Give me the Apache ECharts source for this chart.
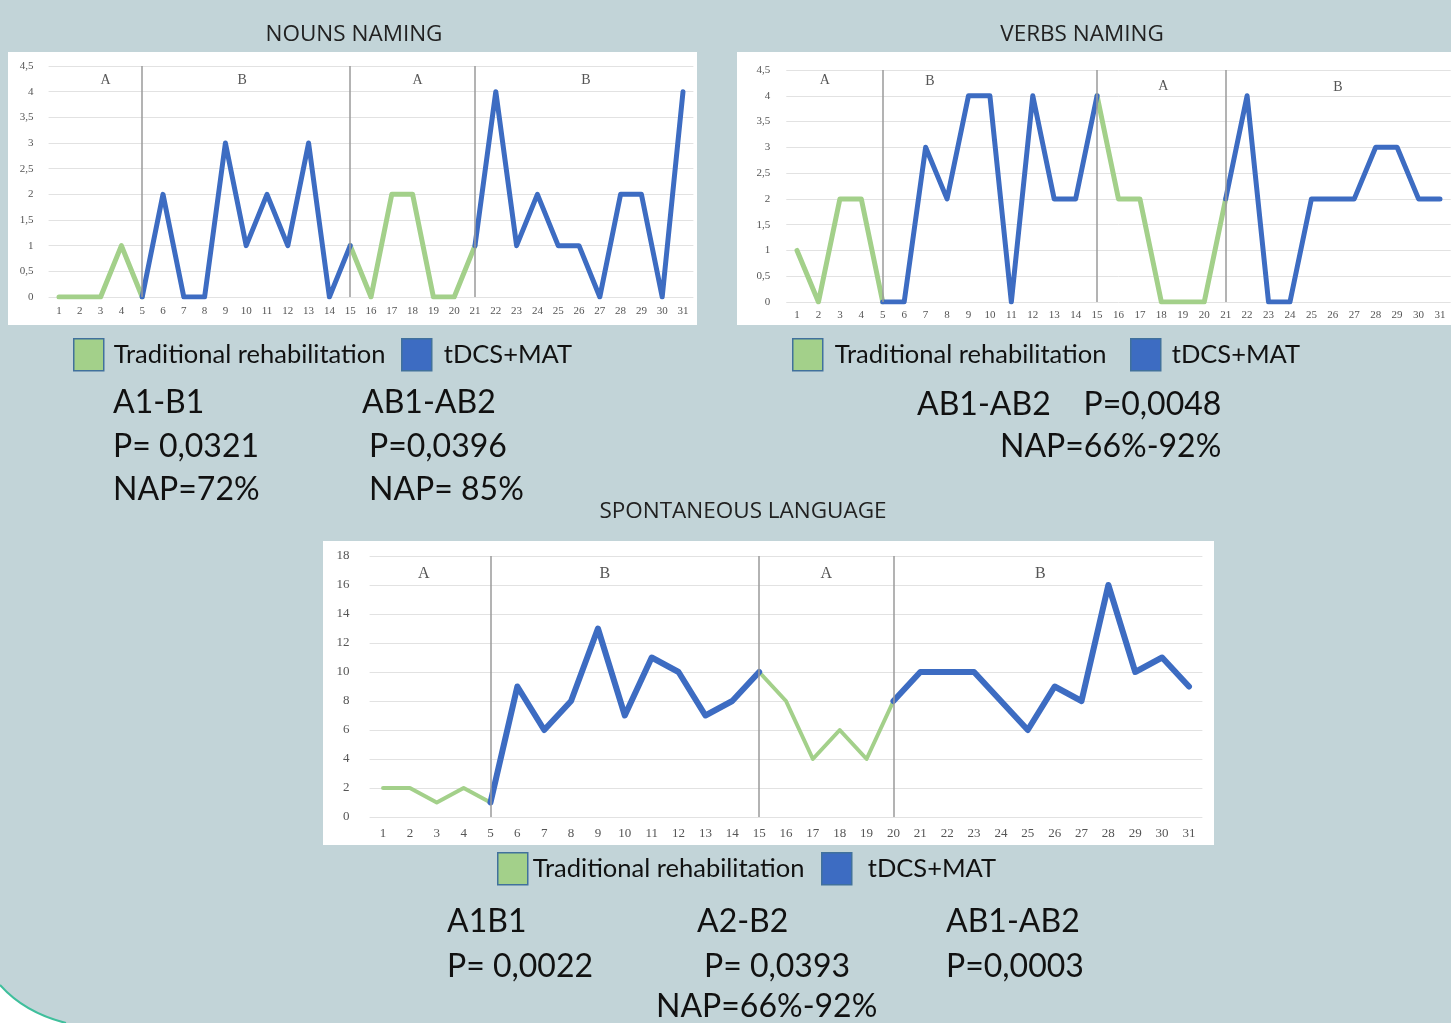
<!DOCTYPE html>
<html>
<head>
<meta charset="utf-8">
<script src="https://cdn.jsdelivr.net/npm/echarts@6/dist/echarts.min.js"></script>
<style>
html,body{margin:0;padding:0;background:#c2d4d8;}
#c{width:1451px;height:1023px;}
</style>
</head>
<body>
<div id="c"></div>
<script>
// ---------- DATA ----------
const sessions = ['1','2','3','4','5','6','7','8','9','10','11','12','13','14','15','16','17','18','19','20','21','22','23','24','25','26','27','28','29','30','31'];
const nounsValues = [0,0,0,1,0,2,0,0,3,1,2,1,3,0,1,0,2,2,0,0,1,4,1,2,1,1,0,2,2,0,4];
const verbsValues = [1,0,2,2,0,0,3,2,4,4,0,4,2,2,4,2,2,0,0,0,2,4,0,0,2,2,2,3,3,2,2];
const spontValues = [2,2,1,2,1,9,6,8,13,7,11,10,7,8,10,8,4,6,4,8,10,10,10,8,6,9,8,16,10,11,9];
const nounsPhaseChanges = ['5','15','21'];
const verbsPhaseChanges = ['5','15','21'];
const spontPhaseChanges = ['5','15','20'];
const phaseLabels = ['A','B','A','B'];
const seriesNames = ['Traditional rehabilitation','tDCS+MAT'];
const titles = ['NOUNS NAMING','VERBS NAMING','SPONTANEOUS LANGUAGE'];

// ---------- STYLE / LAYOUT ----------
const GREEN = '#a3d08a', BLUE = '#3d6cc2', LEGEND_BORDER = '#41719c';
const serif = '"Liberation Serif","DejaVu Serif",serif';
const statFont = 'Lato, "Open Sans", sans-serif';

function splitPhases(values, changes) {
  const idx = changes.map(c => sessions.indexOf(c));
  const trad = values.map((v, i) => ((i <= idx[0]) || (i >= idx[1] && i <= idx[2])) ? v : null);
  const tdcs = values.map((v, i) => ((i >= idx[0] && i <= idx[1]) || (i >= idx[2])) ? v : null);
  return { trad, tdcs };
}

function phaseAreas(changes, offsets, dists) {
  const bounds = [sessions[0]].concat(changes, [sessions[sessions.length - 1]]);
  const areas = [];
  for (let i = 0; i < phaseLabels.length; i++) {
    areas.push([
      { name: phaseLabels[i], xAxis: bounds[i], label: { offset: [offsets[i], dists[i]] } },
      { xAxis: bounds[i + 1] }
    ]);
  }
  return areas;
}

const charts = [
  { values: nounsValues, changes: nounsPhaseChanges, grid: {left: 48.6, width: 644.8, top: 66, height: 231},
    y: {max: 4.5, interval: 0.5}, fs: 11, yMargin: 15, xMargin: 9, lw: [5, 5],
    labOff: [5, -4, 5, 7], labDist: [0, 0, 0, 0], labTop: 7, labFs: 14 },
  { values: verbsValues, changes: verbsPhaseChanges, grid: {left: 786.3, width: 664.4, top: 70, height: 232},
    y: {max: 4.5, interval: 0.5}, fs: 11, yMargin: 16, xMargin: 8, lw: [5, 5],
    labOff: [-15, -60, 2, 5], labDist: [0, 1, 6, 7], labTop: 3, labFs: 14 },
  { values: spontValues, changes: spontPhaseChanges, grid: {left: 369.6, width: 832.8, top: 556, height: 261},
    y: {max: 18, interval: 2}, fs: 13, yMargin: 20, xMargin: 10, lw: [4, 6],
    labOff: [-13, -20, 0, -1], labDist: [0, 0, 0, 0], labTop: 10, labFs: 16 }
];

const grid = [], xAxis = [], yAxis = [], series = [];
charts.forEach((c, k) => {
  grid.push(Object.assign({}, c.grid));
  xAxis.push({
    type: 'category', gridIndex: k, data: sessions, boundaryGap: true,
    axisLine: {show: false}, axisTick: {show: false},
    axisLabel: {fontFamily: serif, fontSize: c.fs, color: '#555', margin: c.xMargin, interval: 0},
    splitLine: {show: false}
  });
  yAxis.push({
    type: 'value', gridIndex: k, min: 0, max: c.y.max, interval: c.y.interval,
    axisLine: {show: false}, axisTick: {show: false},
    axisLabel: {fontFamily: serif, fontSize: c.fs, color: '#555', margin: c.yMargin,
      formatter: v => String(v).replace('.', ',')},
    splitLine: {show: true, lineStyle: {color: '#e2e2e2', width: 1}}
  });
  const p = splitPhases(c.values, c.changes);
  series.push({
    name: seriesNames[0], type: 'line', xAxisIndex: k, yAxisIndex: k, data: p.trad,
    showSymbol: false, symbol: 'none', connectNulls: false, z: 3,
    lineStyle: {color: GREEN, width: c.lw[0], cap: 'round', join: 'round'},
    itemStyle: {color: GREEN},
    markArea: {
      silent: true, itemStyle: {color: 'rgba(0,0,0,0)'},
      label: {show: true, position: 'insideTop', distance: c.labTop, fontFamily: serif,
        fontSize: c.labFs, color: '#555', formatter: '{b}'},
      data: phaseAreas(c.changes, c.labOff, c.labDist)
    }
  });
  series.push({
    name: seriesNames[1], type: 'line', xAxisIndex: k, yAxisIndex: k, data: p.tdcs,
    showSymbol: false, symbol: 'none', connectNulls: false, z: 4,
    lineStyle: {color: BLUE, width: c.lw[1], cap: 'round', join: 'round'},
    itemStyle: {color: BLUE},
    markLine: {
      silent: true, symbol: ['none', 'none'], label: {show: false},
      lineStyle: {color: '#9a9a9a', width: 1.5, type: 'solid'},
      data: c.changes.map(s => ({xAxis: s}))
    }
  });
});

function legendItem(name, left, top, pad) {
  return {
    data: [name], left: left, top: top, orient: 'horizontal',
    icon: 'rect', itemWidth: 30, itemHeight: 32, padding: 0,
    itemStyle: {borderColor: LEGEND_BORDER, borderWidth: 1.5},
    textStyle: {fontFamily: 'Lato, "Open Sans", sans-serif', fontSize: 25.5, color: '#111', padding: [2, 0, 0, pad]},
    selectedMode: false
  };
}
const legend = [
  legendItem(seriesNames[0], 73, 338, 5),
  legendItem(seriesNames[1], 401, 338, 7),
  legendItem(seriesNames[0], 792, 338, 7),
  legendItem(seriesNames[1], 1130, 338, 6),
  legendItem(seriesNames[0], 497, 852, 0),
  legendItem(seriesNames[1], 821, 852, 11)
];

const title = [
  {text: titles[0], left: 354, top: 23, textAlign: 'center'},
  {text: titles[1], left: 1082, top: 23, textAlign: 'center'},
  {text: titles[2], left: 743, top: 500, textAlign: 'center'}
].map(t => Object.assign(t, {padding: 0, textStyle: {fontFamily: '"Open Sans", sans-serif', fontSize: 22.5, fontWeight: 'normal', color: '#222'}}));

function stat(text, x, y) {
  return {type: 'text', left: x, top: y - 14, z: 10,
    style: {text: text, font: '32px ' + statFont, fill: '#111'}};
}
// decorative rounded frame corner at bottom-left
const cornerPts = [];
for (let t = 0; t <= 1.0001; t += 0.1) {
  const x = 3 * (1 - t) * (1 - t) * t * 16 + 3 * (1 - t) * t * t * 38 + t * t * t * 66;
  const y = (1 - t) ** 3 * 985 + 3 * (1 - t) * (1 - t) * t * 1003 + 3 * (1 - t) * t * t * 1016 + t * t * t * 1023;
  cornerPts.push([x, y]);
}
cornerPts.push([0, 1023]);

const graphic = [
  {type: 'rect', shape: {x: 8, y: 52, width: 689, height: 273}, style: {fill: '#fff'}, z: -10},
  {type: 'rect', shape: {x: 737, y: 52, width: 714, height: 273}, style: {fill: '#fff'}, z: -10},
  {type: 'rect', shape: {x: 323, y: 541, width: 891, height: 304}, style: {fill: '#fff'}, z: -10},
  {type: 'polygon', shape: {points: cornerPts}, style: {fill: '#fff'}, z: -10},
  {type: 'bezierCurve', shape: {x1: 0, y1: 985, cpx1: 16, cpy1: 1003, cpx2: 38, cpy2: 1016, x2: 66, y2: 1023},
    style: {stroke: '#3fbf9c', lineWidth: 2, fill: null}, z: -9},
  stat('A1-B1', 113, 401), stat('P= 0,0321', 113, 445), stat('NAP=72%', 113, 488),
  stat('AB1-AB2', 362, 401), stat('P=0,0396', 369, 445), stat('NAP= 85%', 369, 488),
  stat('AB1-AB2    P=0,0048', 917, 403), stat('NAP=66%-92%', 1000, 445),
  stat('A1B1', 447, 920), stat('P= 0,0022', 447, 965),
  stat('A2-B2', 697, 920), stat('P= 0,0393', 704, 965), stat('NAP=66%-92%', 656, 1005),
  stat('AB1-AB2', 946, 920), stat('P=0,0003', 946, 965)
];

const chart = echarts.init(document.getElementById('c'), null, {renderer: 'canvas'});
chart.setOption({
  backgroundColor: '#c2d4d8',
  animation: false,
  title, legend, grid, xAxis, yAxis, series, graphic
});
</script>
</body>
</html>
